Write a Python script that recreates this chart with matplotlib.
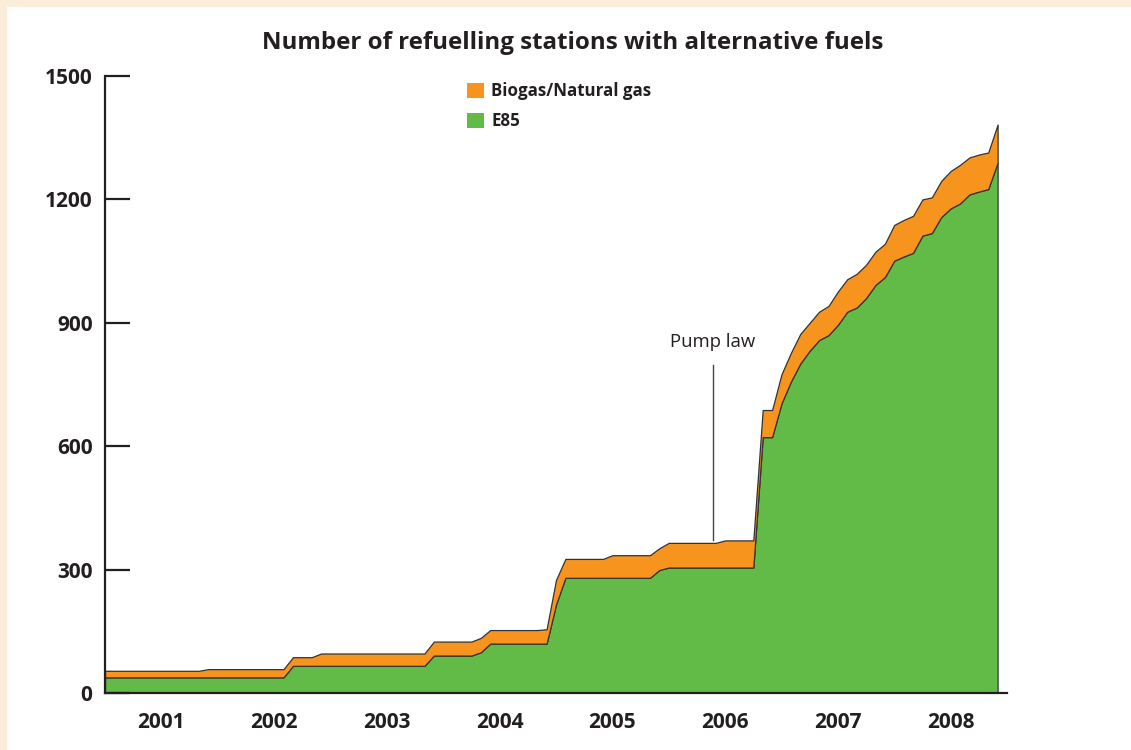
import matplotlib
matplotlib.use("Agg")
import matplotlib.pyplot as plt
from matplotlib.patches import Patch, Rectangle
import numpy as np

plt.rcParams['font.family'] = ['Open Sans', 'DejaVu Sans']

# monthly values, Jan 2001 .. Dec 2008
months = np.arange(96)
e85 = [38] * 20 + [66] * 3 + [66] * 12 + [91] * 5 + [99] + [120] * 6 + [120] + [215] \
    + [280] * 10 + [299] + [305] * 6 + [305] * 4 \
    + [622, 622, 704, 757, 801, 832, 858, 870, 895, 927, 937, 960, 992,
       1011, 1051, 1061, 1070, 1112, 1118, 1157, 1178, 1190, 1212, 1219, 1225, 1289]
total = [54] * 11 + [58] * 9 + [87] * 3 + [96] * 12 + [125] * 5 + [134] + [153] * 6 + [155] + [275] \
    + [326] * 5 + [335] * 5 + [352] + [365] * 6 + [371] * 4 \
    + [688, 688, 775, 827, 873, 900, 927, 941, 976, 1006, 1019, 1041, 1073,
       1092, 1138, 1150, 1160, 1200, 1205, 1245, 1269, 1284, 1302, 1309, 1314, 1382]
biogas = [t - e for t, e in zip(total, e85)]

years = [2001, 2002, 2003, 2004, 2005, 2006, 2007, 2008]
yticks = [0, 300, 600, 900, 1200, 1500]

pump_law_x = 2006.39
pump_law_y = (372, 797)

green = '#62BB47'
orange = '#F7941E'
ink = '#231F20'

fig = plt.figure(figsize=(11.31, 7.5), dpi=100, facecolor='white')
# cream frame on top and left
fig.patches.append(Rectangle((0, 1 - 7 / 750), 1, 7 / 750, transform=fig.transFigure,
                             facecolor='#FAEED8', edgecolor='none', zorder=0))
fig.patches.append(Rectangle((0, 0), 7 / 1131, 1, transform=fig.transFigure,
                             facecolor='#FAEED8', edgecolor='none', zorder=0))

ax = fig.add_axes([105 / 1131, 1 - 693 / 750, 902 / 1131, 617 / 750])
x = 2001 + months / 12
ax.stackplot(x, e85, biogas, colors=[green, orange], edgecolor='#333333', linewidth=0.9)

ax.set_xlim(2001, 2009)
ax.set_ylim(0, 1500)

for s in ['top', 'right']:
    ax.spines[s].set_visible(False)
for s in ['left', 'bottom']:
    ax.spines[s].set_linewidth(1.6)
    ax.spines[s].set_color(ink)

ax.set_yticks(yticks)
ax.set_yticklabels([str(v) for v in yticks], fontsize=15, fontweight='bold', color=ink)
ax.tick_params(axis='y', direction='in', length=18, width=1.6, color=ink, pad=9)
ax.set_xticks([yr + 0.5 for yr in years])
ax.set_xticklabels([str(yr) for yr in years], fontsize=15, fontweight='bold', color=ink)
ax.tick_params(axis='x', length=0, pad=14)

ax.plot([pump_law_x, pump_law_x], pump_law_y, color='#444444', linewidth=1.0)
ax.text(pump_law_x, 853, 'Pump law', ha='center', va='center', fontsize=13.3, color=ink)

fig.text(573 / 1131, 1 - 43 / 750, 'Number of refuelling stations with alternative fuels',
         ha='center', va='center', fontsize=17.4, fontweight='bold', color=ink)

handles = [Patch(facecolor=orange, edgecolor='none', label='Biogas/Natural gas'),
           Patch(facecolor=green, edgecolor='none', label='E85')]
leg = fig.legend(handles=handles, loc='upper left', bbox_to_anchor=(459 / 1131, 1 - 74 / 750),
                 frameon=False, handlelength=1.0, handleheight=1.0, handletextpad=0.4,
                 labelspacing=0.7, borderpad=0, prop={'size': 12.2, 'weight': 'bold'})
for t in leg.get_texts():
    t.set_color(ink)

fig.savefig('out.png', dpi=100, facecolor=fig.get_facecolor())
